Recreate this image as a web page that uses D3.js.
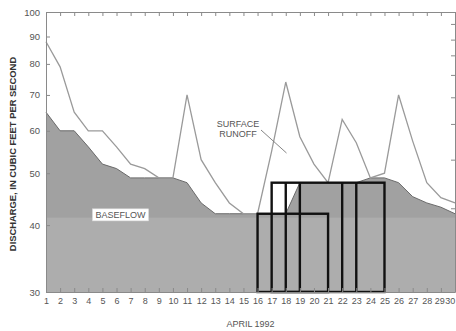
<!DOCTYPE html>
<html><head><meta charset="utf-8">
<script src="https://cdn.jsdelivr.net/npm/d3@7"></script>
<style>
html,body{margin:0;padding:0;background:#fff;}
svg{display:block;font-family:"Liberation Sans",Arial,sans-serif;}
</style></head>
<body>
<svg id="c" width="456" height="331"></svg>
<script>
const days = d3.range(1, 31);
const baseflow = [65,60,60,56,52,51,49,49,49,49,48,44,42,42,42,42,42,42,48,48,48,48,48,49,49,48,45.2,44,43.2,42];
const runoff   = [88,79,65,60,60,56,52,51,49,49,70,53,48,44,42,42,55,74,58.5,52,48,63,57,49,50,70,57.4,48,45,44];
const yTicks = [30,40,50,60,70,80,90,100];
const rightTicks = [95,88.8,83,76.3,69.3,61.8,53,43];
const lowBandTop = 41.3;
// rectangles: [startDay, endDay, lowValue, highValue]
const boxes = [[16,21,30,42],[17,25,30,48]];
const dividers = [[18,30,48],[19,30,48],[22,30,48],[23,30,48]];
const xLabel = "APRIL 1992";
const yLabel = "DISCHARGE, IN CUBIC FEET PER SECOND";

const svg = d3.select("#c");
const x = d3.scaleLinear().domain([1,30]).range([46,455]);
const y = d3.scaleLog().domain([30,100]).range([292,12]);

const dataB = days.map((d,i)=>({d, v: baseflow[i]}));
const dataR = days.map((d,i)=>({d, v: runoff[i]}));

svg.append("path")
  .datum(dataB)
  .attr("d", d3.area().x(p=>x(p.d)).y0(y(30)).y1(p=>y(p.v)))
  .attr("fill", "#a1a1a1");
svg.append("rect")
  .attr("x", x(1)).attr("y", y(lowBandTop))
  .attr("width", x(30)-x(1)).attr("height", y(30)-y(lowBandTop))
  .attr("fill", "#adadad");
svg.append("path")
  .datum(dataB)
  .attr("d", d3.line().x(p=>x(p.d)).y(p=>y(p.v)))
  .attr("fill","none").attr("stroke","#6a6a6a").attr("stroke-width",1);
svg.append("path")
  .datum(dataR)
  .attr("d", d3.line().x(p=>x(p.d)).y(p=>y(p.v)))
  .attr("fill","none").attr("stroke","#9a9a9a").attr("stroke-width",1.3);

boxes.forEach(b=>{
  svg.append("rect")
    .attr("x", x(b[0])).attr("y", y(b[3]))
    .attr("width", x(b[1])-x(b[0])).attr("height", y(b[2])-y(b[3]))
    .attr("fill","none").attr("stroke","#111").attr("stroke-width",2.4);
});
dividers.forEach(dv=>{
  svg.append("line")
    .attr("x1", x(dv[0])).attr("x2", x(dv[0]))
    .attr("y1", y(dv[1])).attr("y2", y(dv[2]))
    .attr("stroke","#111").attr("stroke-width",2.4);
});

const axColor = "#8a8a8a", txtColor = "#555";
const gL = svg.append("g").attr("transform",`translate(${x(1)},0)`)
  .call(d3.axisLeft(y).tickValues(yTicks).tickFormat(d3.format("d")).tickSizeInner(-4).tickSizeOuter(0).tickPadding(6));
const gB = svg.append("g").attr("transform",`translate(0,${y(30)})`)
  .call(d3.axisBottom(x).tickValues(days).tickFormat(d3.format("d")).tickSizeInner(-4).tickSizeOuter(0).tickPadding(6));
const gT = svg.append("g").attr("transform",`translate(0,${y(100)})`)
  .call(d3.axisTop(x).tickValues(days).tickFormat("").tickSizeInner(-4).tickSizeOuter(0));
const gR = svg.append("g").attr("transform",`translate(${x(30)},0)`)
  .call(d3.axisRight(y).tickValues(rightTicks).tickFormat("").tickSizeInner(-4).tickSizeOuter(0));
[gL,gB,gT,gR].forEach(g=>{
  g.select(".domain").attr("stroke",axColor);
  g.selectAll(".tick line").attr("stroke",axColor);
  g.selectAll(".tick text").attr("fill",txtColor).style("font-size","9.5px").style("font-family","Liberation Sans, Arial, sans-serif");
});
gB.selectAll(".tick text").style("font-size","9px");
// keep last day labels inside the page without overlapping
gB.selectAll(".tick text").filter(d=>d===30).attr("text-anchor","end").attr("dx","-0.3");
gB.selectAll(".tick text").filter(d=>d===29).attr("dx","-1.6");

svg.append("text").attr("x", (x(1)+x(30))/2).attr("y", 327)
  .attr("text-anchor","middle").attr("fill","#555").style("font-size","9px").text(xLabel);
svg.append("text").attr("transform",`translate(16,${(y(30)+y(100))/2 + 2}) rotate(-90)`)
  .attr("text-anchor","middle").attr("fill","#333").style("font-size","9.4px").style("font-weight","bold").text(yLabel);

const bl = svg.append("g").attr("transform",`translate(${x(6)+4},${y(41.8)})`);
bl.append("rect").attr("x",-28).attr("y",-6).attr("width",56).attr("height",12)
  .attr("fill","#fff").attr("stroke","#ddd").attr("stroke-width",0.6);
bl.append("text").attr("text-anchor","middle").attr("dy","0.35em")
  .attr("fill","#555").style("font-size","9px").text("BASEFLOW");

const sr = svg.append("text").attr("text-anchor","middle").attr("fill","#555").style("font-size","9px");
sr.append("tspan").attr("x",238).attr("y",127).text("SURFACE");
sr.append("tspan").attr("x",238).attr("y",136.5).text("RUNOFF");
svg.append("line").attr("x1",261).attr("y1",130).attr("x2",286.5).attr("y2",153)
  .attr("stroke","#777").attr("stroke-width",0.9);
</script>
</body></html>
